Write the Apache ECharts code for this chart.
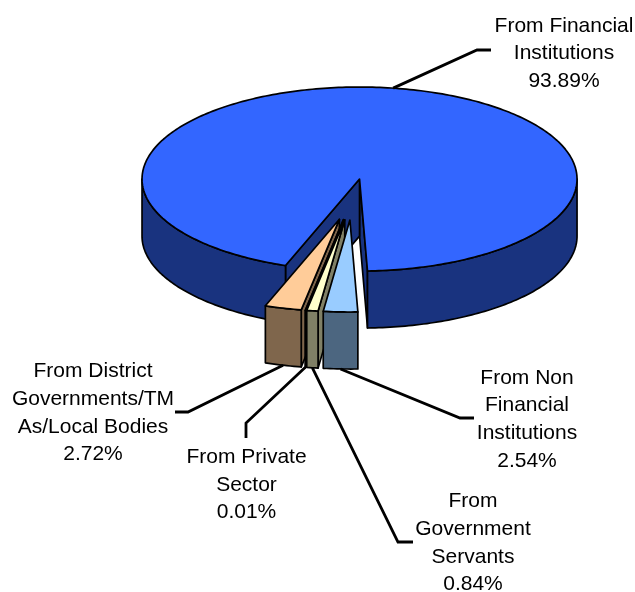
<!DOCTYPE html>
<html>
<head>
<meta charset="utf-8">
<script src="https://cdn.jsdelivr.net/npm/echarts@6/dist/echarts.min.js"></script>
<style>html,body{margin:0;padding:0;background:#fff}#c{width:635px;height:592px}</style>
</head>
<body>
<div id="c"></div>
<script>
// Data, in drawing order (back to front)
const names = [
  'From Financial\nInstitutions',
  'From District\nGovernments/TM\nAs/Local Bodies',
  'From Private\nSector',
  'From\nGovernment\nServants',
  'From Non\nFinancial\nInstitutions'
];
const values = [93.89, 2.72, 0.01, 0.84, 2.54];

// Styling and layout
const topColors  = ['#3366FF', '#FFCC99', '#C0C090', '#FFFFCC', '#99CCFF'];
const sideColors = ['#19337F', '#7F664C', '#60604A', '#808066', '#4C6680'];
const elbows     = [[477, 50], [188, 412], [246, 423], [398, 542], [460, 418]];
const leaderEnds = [[491, 50], [175, 412], [246, 438], [413, 542], [474, 418]];
const labelAt    = [[564, 53.5], [93, 413], [246.5, 485], [473, 543], [527, 419.5]];
const startDeg = 2.1, explode = 0.224, depth = 0.62;

const rad = d => d * Math.PI / 180;
const rim = (c, d, dz) => [c[0] + Math.sin(rad(d)), c[1] + Math.cos(rad(d)) + (dz || 0)];
function arc(c, a0, a1, dz) {
  const pts = [], n = Math.max(2, Math.ceil(Math.abs(a1 - a0)));
  for (let i = 0; i <= n; i++) pts.push(rim(c, a0 + (a1 - a0) * i / n, dz));
  return pts;
}
let cum = startDeg;
const slices = values.map(v => {
  const a0 = cum, a1 = cum + v / 100 * 360;
  cum = a1;
  const mid = (a0 + a1) / 2;
  return { a0, a1, mid, c: [explode * Math.sin(rad(mid)), explode * Math.cos(rad(mid))] };
});

function renderItem(params, api) {
  const i = params.dataIndex, s = slices[api.value(0)];
  const P = p => api.coord(p);
  const style = fill => ({ fill, stroke: '#000', lineWidth: 1.7, lineJoin: 'round' });
  const poly = (pts, fill) => ({ type: 'polygon', shape: { points: pts.map(P) }, style: style(fill) });
  const kids = [];
  const c = s.c, cd = [c[0], c[1] + depth];
  // cut faces
  if (Math.sin(rad(s.a0)) > 0) kids.push(poly([c, rim(c, s.a0), rim(cd, s.a0), cd], sideColors[i]));
  if (Math.sin(rad(s.a1)) < 0) kids.push(poly([c, rim(c, s.a1), rim(cd, s.a1), cd], sideColors[i]));
  // outer wall: front-facing parts of the rim only
  [[-90, 90], [270, 450]].forEach(w => {
    const l = Math.max(s.a0, w[0]), h = Math.min(s.a1, w[1]);
    if (h > l) kids.push(poly(arc(c, l, h).concat(arc(cd, h, l)), sideColors[i]));
  });
  // top face
  kids.push(poly([c].concat(arc(c, s.a0, s.a1)), topColors[i]));
  // leader and label
  const anchor = P(Math.cos(rad(s.mid)) > 0 ? rim(cd, s.mid) : rim(c, s.mid));
  kids.push({
    type: 'polyline', shape: { points: [anchor, elbows[i], leaderEnds[i]] },
    style: { fill: null, stroke: '#000', lineWidth: 2.8 }, z2: 5
  });
  kids.push({
    type: 'text', z2: 6,
    style: {
      text: names[i] + '\n' + values[i].toFixed(2) + '%',
      x: labelAt[i][0], y: labelAt[i][1], align: 'center', verticalAlign: 'middle',
      font: '21px "Liberation Sans", Arial, sans-serif', lineHeight: 27.7, fill: '#000'
    }
  });
  return { type: 'group', children: kids };
}

const chart = echarts.init(document.getElementById('c'), null, { renderer: 'canvas' });
chart.setOption({
  backgroundColor: '#fff',
  animation: false,
  grid: { left: 134.5, top: 107.4, width: 435, height: 184, containLabel: false },
  xAxis: { type: 'value', min: -1, max: 1, show: false },
  yAxis: { type: 'value', min: -1, max: 1, inverse: true, show: false },
  series: [{
    type: 'custom', coordinateSystem: 'cartesian2d', clip: false, silent: true,
    encode: { x: 1, y: 2 },
    data: values.map((v, i) => [i, 0, 0]),
    renderItem
  }]
});
</script>
</body>
</html>
